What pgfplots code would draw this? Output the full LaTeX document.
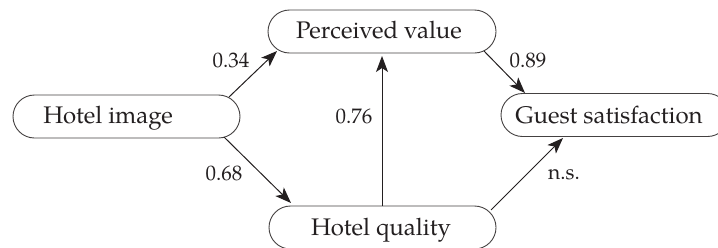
\documentclass[border=0pt]{standalone}
\usepackage{fontspec}
\setmainfont{TeX Gyre Pagella}
\usepackage{pgfplots}
\pgfplotsset{compat=1.18}
\usetikzlibrary{arrows.meta,shapes.misc}
\definecolor{ink}{RGB}{35,31,32}
\tikzset{arr/.style={ink, line width=0.5pt, -{Stealth[length=8pt,width=6pt,inset=2pt]}},
  bx/.style={draw=ink!85, line width=0.45pt, rounded rectangle, inner sep=0pt, minimum height=21.5pt}}
\begin{document}
\begin{tikzpicture}
\begin{axis}[
  width=359pt, height=123.5pt, scale only axis,
  xmin=0, xmax=718, ymin=0, ymax=247, y dir=reverse,
  hide axis, clip=false,
]
\coordinate (bbA) at (axis cs:0,0);
\coordinate (bbB) at (axis cs:718,247);
% boxes
\node[bx, minimum width=113.5pt] at (axis cs:126.5,116.5) {};
\node[bx, minimum width=114pt] at (axis cs:382,31.5) {};
\node[bx, minimum width=114pt] at (axis cs:615,115) {};
\node[bx, minimum width=113.5pt] at (axis cs:382.5,227.5) {};
% box texts
\node[ink, anchor=base, font=\fontsize{12}{14}\selectfont] at (axis cs:108,123) {Hotel image};
\node[ink, anchor=base, font=\fontsize{12}{14}\selectfont] at (axis cs:379,38) {Perceived value};
\node[ink, anchor=base, font=\fontsize{12}{14}\selectfont] at (axis cs:609,123) {Guest satisfaction};
\node[ink, anchor=base, font=\fontsize{12}{14}\selectfont] at (axis cs:381,235) {Hotel quality};
% arrows
\addplot[arr] coordinates {(229,97) (277,51)};
\addplot[arr] coordinates {(224,137) (291,203)};
\addplot[arr] coordinates {(382,206) (382,56)};
\addplot[arr] coordinates {(484,51) (525,93)};
\addplot[arr] coordinates {(491,210) (563,138)};
% labels
\node[ink, font=\fontsize{10.5}{12}\selectfont] at (axis cs:231,60) {0.34};
\node[ink, font=\fontsize{10.5}{12}\selectfont] at (axis cs:224,173) {0.68};
\node[ink, font=\fontsize{10.5}{12}\selectfont] at (axis cs:354,116) {0.76};
\node[ink, font=\fontsize{10.5}{12}\selectfont] at (axis cs:528,60) {0.89};
\node[ink, font=\fontsize{10.5}{12}\selectfont] at (axis cs:564,175) {n.s.};
\end{axis}
\pgfresetboundingbox
\useasboundingbox (bbA) rectangle (bbB);
\end{tikzpicture}
\end{document}
